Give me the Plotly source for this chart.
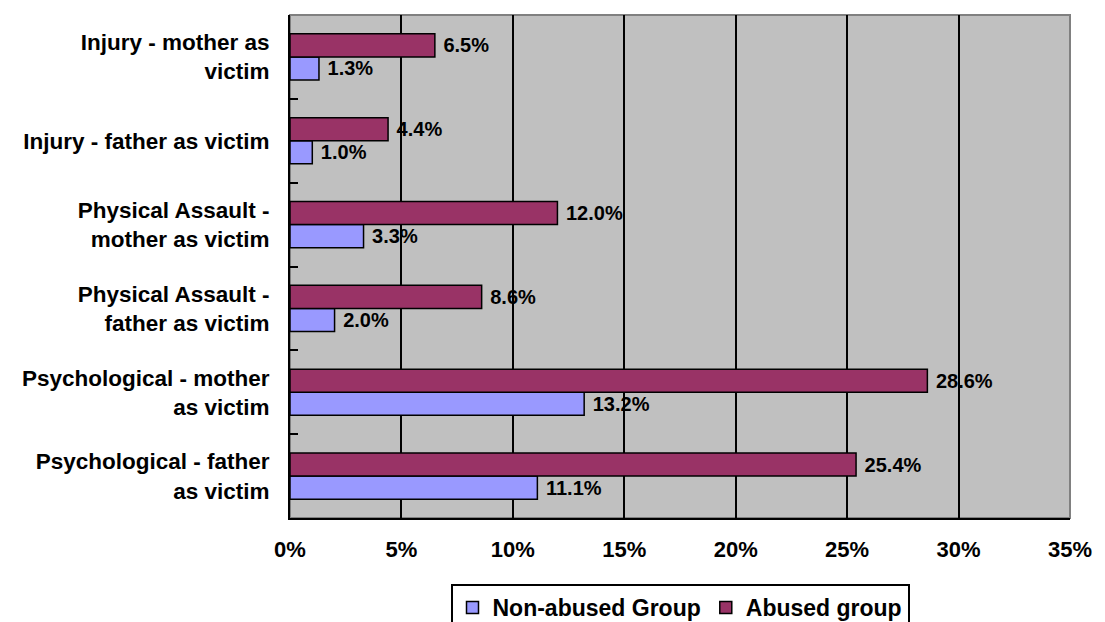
import plotly.graph_objects as go

categories = [
    "Psychological - father<br>as victim",
    "Psychological - mother<br>as victim",
    "Physical Assault -<br>father as victim",
    "Physical Assault -<br>mother as victim",
    "Injury - father as victim",
    "Injury - mother as<br>victim",
]
non_abused = [0.111, 0.132, 0.020, 0.033, 0.010, 0.013]
abused = [0.254, 0.286, 0.086, 0.120, 0.044, 0.065]
x_ticks = [0, 0.05, 0.10, 0.15, 0.20, 0.25, 0.30, 0.35]

FONT = "Arial, Liberation Sans, sans-serif"
NB = "\u00a0"

fig = go.Figure()
fig.add_trace(go.Bar(
    y=categories, x=non_abused, name="<b>Non-abused Group</b>", orientation="h",
    marker=dict(color="#9999FF", line=dict(color="black", width=1.5)),
    text=[f"<b>{NB}{v*100:.1f}%</b>" for v in non_abused], textposition="outside",
    constraintext="none",
    textfont=dict(family=FONT, size=20, color="black"), cliponaxis=False,
))
fig.add_trace(go.Bar(
    y=categories, x=abused, name="<b>Abused group</b>", orientation="h",
    marker=dict(color="#993366", line=dict(color="black", width=1.5)),
    text=[f"<b>{NB}{v*100:.1f}%</b>" for v in abused], textposition="outside",
    constraintext="none",
    textfont=dict(family=FONT, size=20, color="black"), cliponaxis=False,
))

fig.update_layout(
    width=1105, height=622,
    margin=dict(l=282, r=43, t=7, b=112, autoexpand=False),
    paper_bgcolor="white", plot_bgcolor="#C0C0C0",
    barmode="group", bargap=0.45, bargroupgap=0,
    font=dict(family=FONT, size=22, color="black"),
    showlegend=True,
    legend=dict(
        orientation="h", x=0.5, xanchor="center",
        yref="container", y=0.074, yanchor="top",
        bordercolor="black", borderwidth=2, bgcolor="white",
        font=dict(family=FONT, size=23, color="black"),
        itemwidth=30, traceorder="normal",
    ),
    xaxis=dict(
        range=[0, 0.35], tickvals=x_ticks,
        ticktext=[f"<b>{int(round(v*100))}%</b>" for v in x_ticks],
        showgrid=True, gridcolor="black", gridwidth=2,
        showline=True, linecolor="black", linewidth=2,
        ticks="inside", ticklen=6, tickcolor="black", tickwidth=2,
        ticklabelstandoff=11,
        tickfont=dict(family=FONT, size=22, color="black"),
        zeroline=False, fixedrange=True,
    ),
    yaxis=dict(
        type="category", showline=True, linecolor="black", linewidth=2,
        tickvals=categories,
        ticktext=[f"<b>{c}</b>".replace("<br>", "</b><br><b>") for c in categories],
        ticks="inside", tickson="boundaries", ticklen=8, tickcolor="black", tickwidth=2,
        tickfont=dict(family=FONT, size=22.5, color="black"),
        showgrid=False, ticklabelstandoff=14, fixedrange=True,
    ),
    shapes=[dict(type="rect", xref="paper", yref="paper", x0=0, x1=1, y0=0, y1=1,
                 line=dict(color="#808080", width=2), layer="below")],
)

fig.write_html("out.html")
